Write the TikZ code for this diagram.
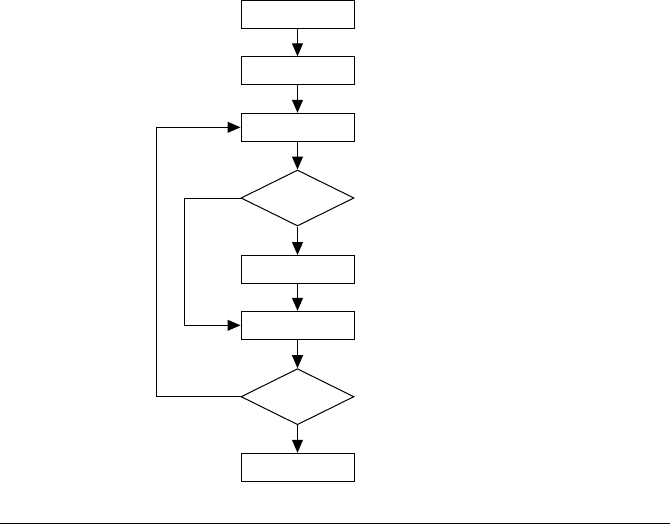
\documentclass[tikz,border=0pt]{standalone}
\usetikzlibrary{shapes.geometric,arrows.meta}
\begin{document}
\begin{tikzpicture}[x=1pt,y=-1pt,
  stepbox/.style={draw,line width=1pt,minimum width=113pt,minimum height=28pt,inner sep=0pt},
  decbox/.style={draw,diamond,line width=1pt,minimum width=113pt,minimum height=56pt,inner sep=0pt},
  flow/.style={line width=1pt,-{Triangle[length=13pt,width=11pt]}}]
\useasboundingbox (0,0) rectangle (670,525);
\node[stepbox] (b1) at (297.5,14.5) {};
\node[stepbox] (b2) at (297.5,70.8) {};
\node[stepbox] (b3) at (297.5,127.3) {};
\node[decbox] (d1) at (297.5,198) {};
\node[stepbox] (b4) at (297.5,269.5) {};
\node[stepbox] (b5) at (297.5,325.3) {};
\node[decbox] (d2) at (297.5,396.7) {};
\node[stepbox] (b6) at (297.5,467.3) {};
\draw[flow] (b1) -- (b2);
\draw[flow] (b2) -- (b3);
\draw[flow] (b3) -- (d1);
\draw[flow] (d1) -- (b4);
\draw[flow] (b4) -- (b5);
\draw[flow] (b5) -- (d2);
\draw[flow] (d2) -- (b6);
\draw[flow] (d1.west) -- (184.3,198) |- (b5.west);
\draw[flow] (d2.west) -- (156.7,396.7) |- (b3.west);
\coordinate (la) at (0,523.7);
\coordinate (lb) at (670,523.7);
\draw[line width=1.3pt] (la) -- (lb);
\end{tikzpicture}
\end{document}
